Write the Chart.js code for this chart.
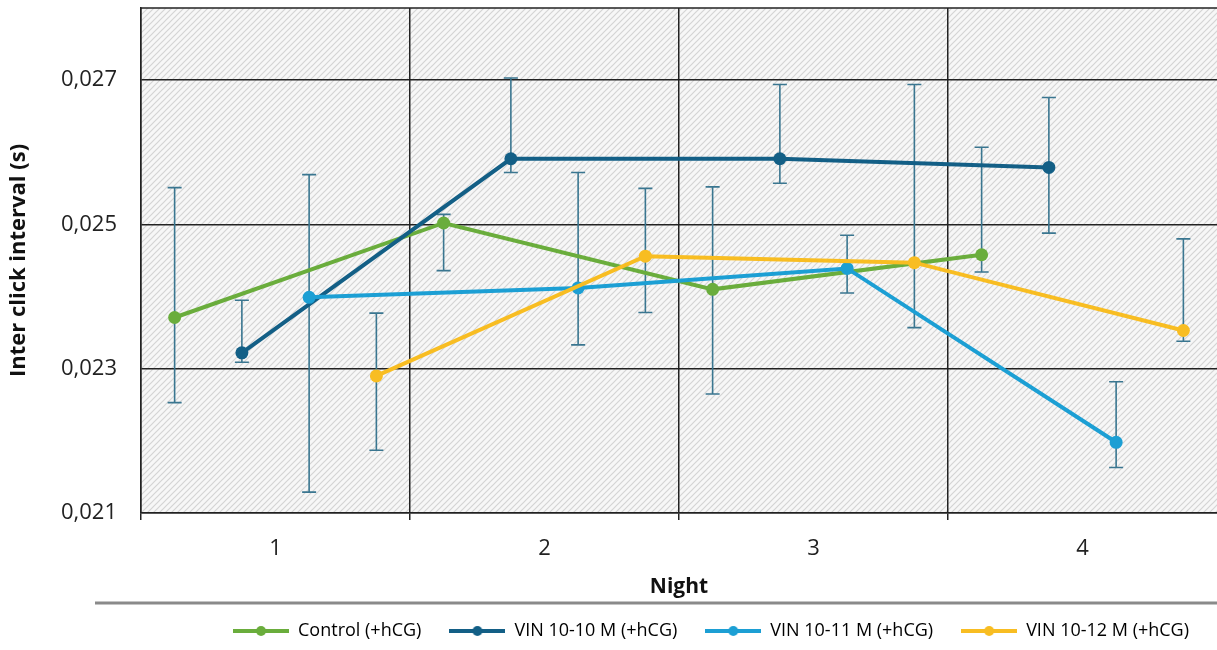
<!DOCTYPE html>
<html>
<head>
<meta charset="utf-8">
<script src="https://cdn.jsdelivr.net/npm/chart.js@4.4.1/dist/chart.umd.min.js"></script>
<style>
html, body { margin: 0; padding: 0; background: #fff; overflow: hidden; }
#wrap { width: 1217px; height: 650px; }
</style>
</head>
<body>
<div id="wrap"><canvas id="chart-icr"></canvas></div>
<script>
// values
const nights = [1, 2, 3, 4];
const yTicks = [0.021, 0.023, 0.025, 0.027];

const controlMean = [0.02371, 0.02502, 0.02410, 0.02458];
const controlHigh = [0.02551, 0.02514, 0.02552, 0.02607];
const controlLow  = [0.02253, 0.02436, 0.02265, 0.02434];

const vin10Mean = [0.02322, 0.02591, 0.02591, 0.02579];
const vin10High = [0.02395, 0.02703, 0.02694, 0.02676];
const vin10Low  = [0.02309, 0.02572, 0.02557, 0.02488];

const vin11Mean = [0.02399, 0.02412, 0.02439, 0.02198];
const vin11High = [0.02569, 0.02572, 0.02485, 0.02282];
const vin11Low  = [0.02129, 0.02333, 0.02405, 0.02163];

const vin12Mean = [0.02290, 0.02456, 0.02447, 0.02353];
const vin12High = [0.02377, 0.02550, 0.02694, 0.02480];
const vin12Low  = [0.02187, 0.02378, 0.02357, 0.02338];

document.addEventListener('DOMContentLoaded', function() {
    const slot = [-0.375, -0.125, 0.125, 0.375];

    function pts(mean, k) {
        return nights.map((n, i) => ({ x: n + slot[k], y: mean[i] }));
    }

    function legendIcon(color) {
        const c = document.createElement('canvas');
        c.width = 56; c.height = 14;
        const g = c.getContext('2d');
        g.strokeStyle = color; g.lineWidth = 4;
        g.beginPath(); g.moveTo(0, 7); g.lineTo(56, 7); g.stroke();
        g.fillStyle = color;
        g.beginPath(); g.arc(28, 7, 5, 0, Math.PI * 2); g.fill();
        return c;
    }

    // hatched plot background
    const tile = document.createElement('canvas');
    tile.width = 6; tile.height = 6;
    const tg = tile.getContext('2d');
    tg.fillStyle = '#f7f7f7';
    tg.fillRect(0, 0, 6, 6);
    tg.strokeStyle = '#d4d4d4';
    tg.lineWidth = 1.2;
    tg.beginPath();
    tg.moveTo(-1, 7); tg.lineTo(7, -1);
    tg.moveTo(-1, 1); tg.lineTo(1, -1);
    tg.moveTo(5, 7); tg.lineTo(7, 5);
    tg.stroke();

    const colors = ['#6aad3c', '#135f86', '#1c9fd4', '#f8bd22'];
    const means = [controlMean, vin10Mean, vin11Mean, vin12Mean];
    const highs = [controlHigh, vin10High, vin11High, vin12High];
    const lows = [controlLow, vin10Low, vin11Low, vin12Low];
    const names = ['Control (+hCG)', 'VIN 10-10 M (+hCG)', 'VIN 10-11 M (+hCG)', 'VIN 10-12 M (+hCG)'];

    const datasets = names.map((name, k) => ({
        label: name,
        data: pts(means[k], k),
        errHigh: highs[k],
        errLow: lows[k],
        borderColor: colors[k],
        backgroundColor: colors[k],
        pointBackgroundColor: colors[k],
        pointBorderWidth: 0,
        pointRadius: 6.5,
        borderWidth: 4,
        tension: 0,
        order: 4 - k,
        legendIcon: legendIcon(colors[k])
    }));

    const hatchPlugin = {
        id: 'hatch',
        beforeDraw(chart) {
            const a = chart.chartArea, ctx = chart.ctx;
            ctx.save();
            ctx.fillStyle = ctx.createPattern(tile, 'repeat');
            ctx.fillRect(a.left, a.top, a.right - a.left, a.bottom - a.top);
            ctx.restore();
        },
        afterDraw(chart) {
            const a = chart.chartArea, ctx = chart.ctx;
            ctx.save();
            ctx.strokeStyle = '#222';
            ctx.lineWidth = 1.5;
            ctx.beginPath();
            ctx.moveTo(a.left, a.top); ctx.lineTo(a.right, a.top);
            ctx.stroke();
            // gray rule between axis title and legend
            const ly = chart.legend.top + 9;
            ctx.strokeStyle = '#8a8a8a';
            ctx.lineWidth = 3;
            ctx.beginPath();
            ctx.moveTo(95, ly); ctx.lineTo(chart.width, ly);
            ctx.stroke();
            ctx.restore();
        }
    };

    const errorBarPlugin = {
        id: 'errorBars',
        beforeDatasetsDraw(chart) {
            const ctx = chart.ctx, ys = chart.scales.y;
            ctx.save();
            ctx.strokeStyle = '#3a7690';
            ctx.lineWidth = 1.6;
            chart.data.datasets.forEach((ds, di) => {
                const meta = chart.getDatasetMeta(di);
                meta.data.forEach((pt, i) => {
                    const yt = ys.getPixelForValue(ds.errHigh[i]);
                    const yb = ys.getPixelForValue(ds.errLow[i]);
                    ctx.beginPath();
                    ctx.moveTo(pt.x, yt); ctx.lineTo(pt.x, yb);
                    ctx.moveTo(pt.x - 7, yt); ctx.lineTo(pt.x + 7, yt);
                    ctx.moveTo(pt.x - 7, yb); ctx.lineTo(pt.x + 7, yb);
                    ctx.stroke();
                });
            });
            ctx.restore();
        }
    };

    const isBoundary = v => Math.abs(v - Math.round(v)) > 0.25 && v < 4.4;
    const noPad = scale => {
        scale.paddingTop = 0; scale.paddingBottom = 0;
        scale.paddingLeft = 0; scale.paddingRight = 0;
    };

    new Chart(document.getElementById('chart-icr'), {
        type: 'line',
        data: { datasets: datasets },
        plugins: [hatchPlugin, errorBarPlugin],
        options: {
            responsive: true,
            maintainAspectRatio: false,
            animation: false,
            layout: { autoPadding: false, padding: { top: 8, right: 0, left: 0, bottom: 0 } },
            plugins: {
                tooltip: { enabled: false },
                legend: {
                    position: 'bottom',
                    align: 'end',
                    labels: {
                        usePointStyle: true,
                        pointStyleWidth: 56,
                        padding: 28,
                        color: '#333',
                        font: { family: 'Open Sans', size: 18 },
                        sort: (a, b) => a.datasetIndex - b.datasetIndex,
                        generateLabels(chart) {
                            return chart.data.datasets.map((ds, i) => ({
                                text: ds.label,
                                pointStyle: ds.legendIcon,
                                fillStyle: ds.borderColor,
                                strokeStyle: ds.borderColor,
                                lineWidth: 0,
                                hidden: false,
                                datasetIndex: i
                            }));
                        }
                    }
                }
            },
            scales: {
                x: {
                    type: 'linear',
                    min: 0.5,
                    max: 4.5,
                    afterFit: scale => { scale.height = 81; noPad(scale); },
                    ticks: {
                        stepSize: 0.5,
                        autoSkip: false,
                        maxRotation: 0,
                        padding: 16,
                        color: '#222',
                        font: { family: 'Open Sans', size: 22 },
                        callback: v => Math.abs(v - Math.round(v)) > 0.25 ? '' : String(v)
                    },
                    grid: {
                        color: c => (c.tick && isBoundary(c.tick.value)) ? '#222' : 'rgba(0,0,0,0)',
                        tickColor: c => (c.tick && (isBoundary(c.tick.value) || c.tick.value < 0.6)) ? '#222' : 'rgba(0,0,0,0)',
                        tickLength: 7,
                        lineWidth: 1.5
                    },
                    border: { color: '#222', width: 1.5 },
                    title: {
                        display: true,
                        text: 'Night',
                        color: '#111',
                        font: { family: 'Open Sans', size: 21, weight: 'bold' },
                        padding: { top: 0, bottom: -6 }
                    }
                },
                y: {
                    min: 0.021,
                    max: 0.028,
                    afterBuildTicks: scale => { scale.ticks = yTicks.map(v => ({ value: v })); },
                    afterFit: scale => { scale.width = 141; noPad(scale); },
                    ticks: {
                        padding: 24,
                        color: '#222',
                        font: { family: 'Open Sans', size: 22 },
                        callback: v => v.toFixed(3).replace('.', ',')
                    },
                    grid: { color: '#222', lineWidth: 1.5, drawTicks: false },
                    border: { color: '#222', width: 1.5 },
                    title: {
                        display: true,
                        text: 'Inter click interval (s)',
                        color: '#111',
                        font: { family: 'Open Sans', size: 22, weight: 'bold' },
                        padding: { top: 6, bottom: 0 }
                    }
                }
            }
        }
    });
});
</script>
</body>
</html>
